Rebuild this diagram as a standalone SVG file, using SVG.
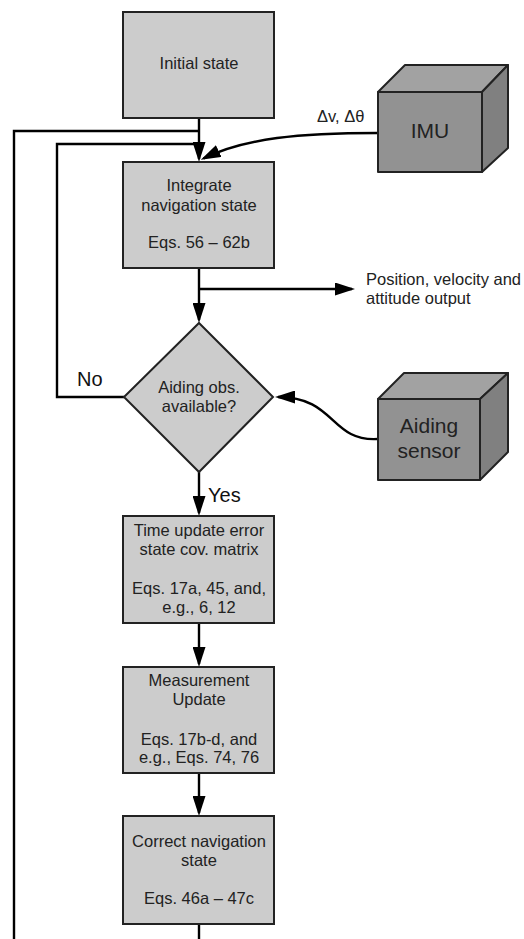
<svg xmlns="http://www.w3.org/2000/svg" width="524" height="939" viewBox="0 0 524 939">
  <style>
    .box { fill: #cccccc; stroke: #222; stroke-width: 2; }
    .front { fill: #929292; stroke: #222; stroke-width: 2; stroke-linejoin: round; }
    .top { fill: #a2a2a2; stroke: #222; stroke-width: 2; stroke-linejoin: round; }
    .side { fill: #808080; stroke: #222; stroke-width: 2; stroke-linejoin: round; }
    .lbl { font-family: "Liberation Sans", Arial, sans-serif; font-size: 16.5px; fill: #222; text-anchor: middle; }
    .big { font-family: "Liberation Sans", Arial, sans-serif; font-size: 21px; fill: #222; text-anchor: middle; }
    .note { font-family: "Liberation Sans", Arial, sans-serif; font-size: 16.5px; fill: #222; }
    .yn { font-family: "Liberation Sans", Arial, sans-serif; font-size: 20px; fill: #111; }
    .wire { fill: none; stroke: #000; stroke-width: 2.4; }
    .arr { fill: none; stroke: #000; stroke-width: 2.4; marker-end: url(#head); }
  </style>
  <defs>
    <marker id="head" viewBox="0 0 20 13" markerWidth="20" markerHeight="13" refX="17" refY="6.5" orient="auto" markerUnits="userSpaceOnUse">
      <path d="M0,0 L20,6.5 L0,13 z" fill="#000"/>
    </marker>
  </defs>

  <g id="connectors">
    <!-- outer feedback loop from the correction step -->
    <path class="wire" d="M199,924 V939"/>
    <path class="wire" d="M14,939 V131 H199"/>
    <!-- "No" branch loop -->
    <path class="wire" d="M124,397 H57 V144 H199"/>
    <!-- initial state to integration -->
    <path class="arr" d="M199,118 V159"/>
    <!-- IMU increments -->
    <path class="arr" d="M378,133 C300,133 245,138 203.5,158.5"/>
    <!-- integration to decision -->
    <path class="arr" d="M199,268 V320"/>
    <!-- navigation output -->
    <path class="arr" d="M199,289 H352"/>
    <!-- aiding sensor to decision -->
    <path class="arr" d="M378,439 C330,442 336,397 278,397"/>
    <!-- Yes branch -->
    <path class="arr" d="M199,472 V513"/>
    <path class="arr" d="M199,623 V664"/>
    <path class="arr" d="M199,773 V813"/>
  </g>

  <g id="initial-state">
    <rect class="box" x="123" y="12" width="151" height="106"/>
    <text class="lbl" x="199" y="69">Initial state</text>
  </g>

  <g id="imu">
    <polygon class="top" points="378,92 405,65 508,65 482,92"/>
    <polygon class="side" points="482,92 508,65 508,148 482,172"/>
    <rect class="front" x="378" y="92" width="104" height="80"/>
    <text class="big" x="430" y="138">IMU</text>
  </g>
  <text class="note" x="317" y="122">Δv, Δθ</text>

  <g id="integrate">
    <rect class="box" x="123" y="162" width="151" height="106"/>
    <text class="lbl" x="199" y="191">Integrate</text>
    <text class="lbl" x="199" y="211">navigation state</text>
    <text class="lbl" x="199" y="248">Eqs. 56 – 62b</text>
  </g>

  <g id="output">
    <text class="note" x="366" y="285">Position, velocity and</text>
    <text class="note" x="366" y="304">attitude output</text>
  </g>

  <g id="decision">
    <polygon class="box" points="199,323 273,397 199,472 124,397"/>
    <text class="lbl" x="199" y="393">Aiding obs.</text>
    <text class="lbl" x="199" y="412">available?</text>
  </g>
  <text class="yn" x="77" y="386">No</text>
  <text class="yn" x="208" y="502">Yes</text>

  <g id="aiding-sensor">
    <polygon class="top" points="378,399 404,373 508,373 480,399"/>
    <polygon class="side" points="480,399 508,373 508,452 480,480"/>
    <rect class="front" x="378" y="399" width="102" height="81"/>
    <text class="big" x="429" y="433">Aiding</text>
    <text class="big" x="429" y="458">sensor</text>
  </g>

  <g id="time-update">
    <rect class="box" x="123" y="516" width="151" height="107"/>
    <text class="lbl" x="199" y="536">Time update error</text>
    <text class="lbl" x="199" y="555">state cov. matrix</text>
    <text class="lbl" x="199" y="594">Eqs. 17a, 45, and,</text>
    <text class="lbl" x="199" y="613">e.g., 6, 12</text>
  </g>

  <g id="measurement-update">
    <rect class="box" x="123" y="667" width="151" height="106"/>
    <text class="lbl" x="199" y="686">Measurement</text>
    <text class="lbl" x="199" y="705">Update</text>
    <text class="lbl" x="199" y="745">Eqs. 17b-d, and</text>
    <text class="lbl" x="199" y="763">e.g., Eqs. 74, 76</text>
  </g>

  <g id="correct-state">
    <rect class="box" x="123" y="816" width="151" height="108"/>
    <text class="lbl" x="199" y="847">Correct navigation</text>
    <text class="lbl" x="199" y="866">state</text>
    <text class="lbl" x="199" y="904">Eqs. 46a – 47c</text>
  </g>
</svg>
